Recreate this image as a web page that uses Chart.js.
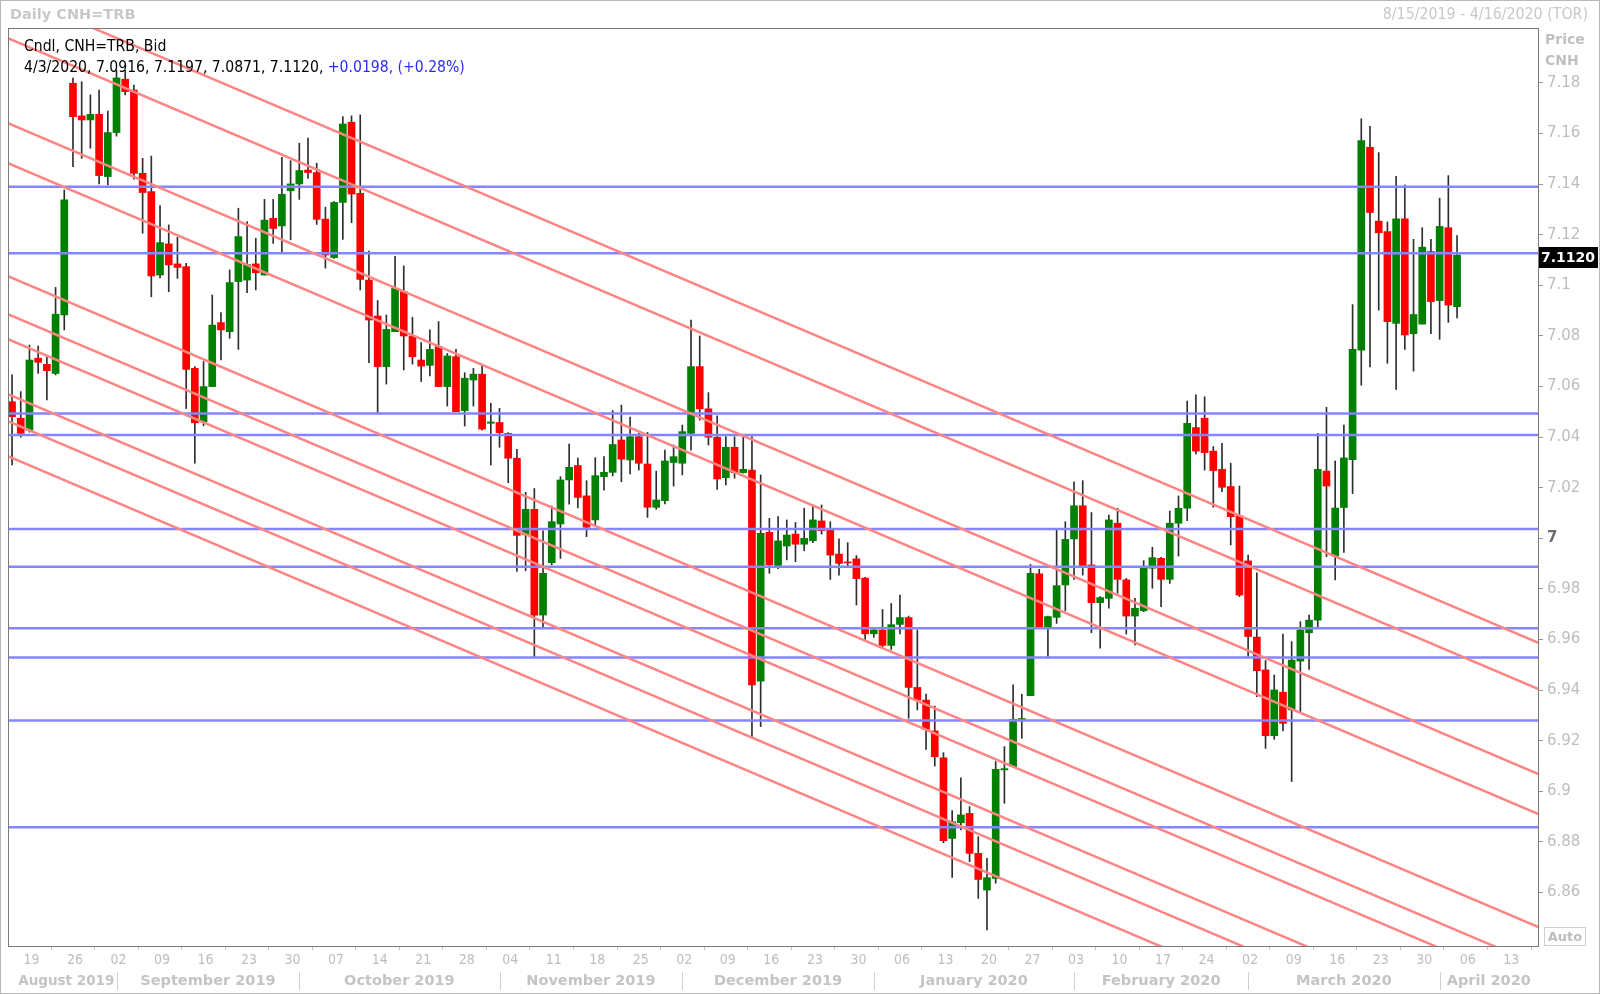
<!DOCTYPE html>
<html>
<head>
<meta charset="utf-8">
<script src="https://cdn.jsdelivr.net/npm/chart.js@4.4.1/dist/chart.umd.min.js"></script>
<style>
  html, body { margin: 0; padding: 0; background: #fff; }
  #wrap { position: relative; width: 1600px; height: 994px; overflow: hidden; }
  #wrap canvas { position: absolute; left: 0; top: 0; }
  .t { position: absolute; white-space: nowrap; font-family: "DejaVu Sans Condensed", "DejaVu Sans", sans-serif; font-size: 15.6px; line-height: 18px; }
  #title { left: 10px; top: 5px; font-weight: bold; color: #c8c8c8; font-family: "DejaVu Sans", sans-serif; font-size: 14.5px; }
  #range { right: 12px; top: 5px; color: #c8c8c8; font-size: 15.8px; }
  #l1 { left: 24px; top: 37px; color: #000; }
  #l2 { left: 24px; top: 58px; color: #000; }
  #l2 span { color: #2b2bff; }
  #pcap { left: 1545px; top: 29px; color: #c0c0c0; font-weight: bold; font-family: "DejaVu Sans", sans-serif; font-size: 14px; line-height: 21px; }
  #auto { left: 1544px; top: 927px; width: 40px; height: 17px; border: 1px solid #cfcfcf; color: #bdbdbd; font-weight: bold; font-family: "DejaVu Sans", sans-serif; font-size: 13px; line-height: 17px; text-align: center; }
  #frame { position: absolute; left: 0; top: 0; width: 1600px; height: 994px; box-sizing: border-box; border: 1px solid #b8b8b8; pointer-events: none; }
</style>
</head>
<body>
<div id="wrap">
  <canvas id="chart" width="1600" height="994"></canvas>
  <div class="t" id="title">Daily CNH=TRB</div>
  <div class="t" id="range">8/15/2019 - 4/16/2020 (TOR)</div>
  <div class="t" id="l1">Cndl, CNH=TRB, Bid</div>
  <div class="t" id="l2"></div>
  <div class="t" id="pcap">Price<br>CNH</div>
  <div class="t" id="auto">Auto</div>
  <div id="frame"></div>
</div>
<script>
// daily candles, one per trading day from 8/15/2019 to 4/3/2020
const opens = [
  7.0540, 7.0475, 7.0428, 7.0712, 7.0688, 7.0652, 7.0883, 7.1799, 7.1670, 7.1654,
  7.1676, 7.1430, 7.1604, 7.1815, 7.1772, 7.1443, 7.1371, 7.1041, 7.1164, 7.1085,
  7.1074, 7.0672, 7.0461, 7.0600, 7.0853, 7.0817, 7.1015, 7.1021, 7.1085, 7.1041,
  7.1265, 7.1235, 7.1374, 7.1401, 7.1456, 7.1446, 7.1262, 7.1110, 7.1328, 7.1645,
  7.1364, 7.1021, 7.0879, 7.0679, 7.0817, 7.0975, 7.0800, 7.0705, 7.0684, 7.0758,
  7.0600, 7.0718, 7.0505, 7.0626, 7.0649, 7.0455, 7.0458, 7.0415, 7.0317, 7.0014,
  7.0115, 6.9697, 6.9904, 7.0057, 7.0231, 7.0288, 7.0168, 7.0073, 7.0244, 7.0261,
  7.0389, 7.0310, 7.0402, 7.0294, 7.0123, 7.0149, 7.0300, 7.0297, 7.0415, 7.0679,
  7.0512, 7.0400, 7.0240, 7.0360, 7.0260, 7.0270, 6.9436, 7.0024, 6.9892, 6.9970,
  7.0017, 6.9977, 6.9991, 7.0069, 7.0033, 6.9938, 6.9905, 6.9919, 6.9843, 6.9623,
  6.9638, 6.9577, 6.9660, 6.9687, 6.9411, 6.9361, 6.9239, 6.9133, 6.8814, 6.8876,
  6.8913, 6.8755, 6.8610, 6.8656, 6.9085, 6.9098, 6.9284, 6.9378, 6.9860, 6.9649,
  6.9688, 6.9816, 6.9998, 7.0129, 6.9895, 6.9746, 6.9763, 7.0060, 6.9836, 6.9693,
  6.9714, 6.9882, 6.9921, 6.9838, 7.0060, 7.0119, 7.0438, 7.0475, 7.0345, 7.0273,
  7.0205, 7.0089, 6.9911, 6.9610, 6.9480, 6.9220, 6.9392, 6.9322, 6.9515, 6.9627,
  6.9677, 7.0266, 6.9930, 7.0122, 7.0311, 7.0744, 7.1546, 7.1254, 7.1213, 7.0850,
  7.1263, 7.0809, 7.0847, 7.1134, 7.0940, 7.1228, 7.0916
];
const highs = [
  7.0646, 7.0580, 7.0764, 7.0760, 7.0718, 7.0992, 7.1377, 7.1819, 7.1805, 7.1753,
  7.1772, 7.1689, 7.1850, 7.1850, 7.1792, 7.1502, 7.1511, 7.1315, 7.1239, 7.1190,
  7.1087, 7.0679, 7.0699, 7.0962, 7.0893, 7.1061, 7.1305, 7.1252, 7.1186, 7.1340,
  7.1340, 7.1506, 7.1493, 7.1562, 7.1582, 7.1483, 7.1309, 7.1331, 7.1667, 7.1670,
  7.1674, 7.1136, 7.0940, 7.0883, 7.1115, 7.1077, 7.0874, 7.0774, 7.0824, 7.0857,
  7.0731, 7.0747, 7.0655, 7.0672, 7.0686, 7.0534, 7.0514, 7.0418, 7.0352, 7.0182,
  7.0197, 7.0030, 7.0128, 7.0244, 7.0373, 7.0317, 7.0228, 7.0319, 7.0323, 7.0505,
  7.0527, 7.0479, 7.0415, 7.0419, 7.0266, 7.0349, 7.0369, 7.0448, 7.0863, 7.0800,
  7.0576, 7.0484, 7.0402, 7.0402, 7.0402, 7.0402, 7.0251, 7.0079, 7.0086, 7.0073,
  7.0063, 7.0119, 7.0132, 7.0132, 7.0066, 6.9998, 6.9983, 6.9932, 6.9846, 6.9640,
  6.9719, 6.9743, 6.9776, 6.9693, 6.9638, 6.9385, 6.9337, 6.9153, 6.8924, 6.9054,
  6.8940, 6.8821, 6.8735, 6.9118, 6.9177, 6.9421, 6.9384, 6.9897, 6.9878, 6.9693,
  7.0033, 7.0066, 7.0224, 7.0228, 7.0102, 6.9770, 7.0092, 7.0119, 6.9842, 6.9763,
  6.9912, 6.9965, 6.9925, 7.0108, 7.0168, 7.0543, 7.0567, 7.0560, 7.0363, 7.0376,
  7.0297, 7.0207, 6.9934, 6.9864, 6.9517, 6.9460, 6.9622, 6.9592, 6.9671, 6.9697,
  7.0415, 7.0518, 7.0306, 7.0448, 7.0924, 7.1658, 7.1629, 7.1525, 7.1251, 7.1431,
  7.1397, 7.1182, 7.1228, 7.1182, 7.1345, 7.1434, 7.1197
];
const lows = [
  7.0290, 7.0400, 7.0420, 7.0652, 7.0547, 7.0646, 7.0824, 7.1469, 7.1502, 7.1542,
  7.1401, 7.1397, 7.1590, 7.1753, 7.1420, 7.1206, 7.0955, 7.1030, 7.0975, 7.1028,
  7.0514, 7.0297, 7.0445, 7.0600, 7.0705, 7.0791, 7.0747, 7.0971, 7.0982, 7.1041,
  7.1166, 7.1129, 7.1180, 7.1340, 7.1423, 7.1241, 7.1068, 7.1107, 7.1182, 7.1248,
  7.0982, 7.0695, 7.0497, 7.0610, 7.0817, 7.0666, 7.0689, 7.0620, 7.0642, 7.0600,
  7.0523, 7.0501, 7.0444, 7.0523, 7.0428, 7.0290, 7.0360, 7.0220, 6.9869, 6.9872,
  6.9530, 6.9648, 6.9895, 6.9921, 7.0135, 7.0120, 7.0007, 7.0053, 7.0191, 7.0247,
  7.0224, 7.0255, 7.0270, 7.0083, 7.0115, 7.0136, 7.0207, 7.0251, 7.0349, 7.0468,
  7.0369, 7.0194, 7.0211, 7.0238, 7.0258, 6.9216, 6.9256, 6.9862, 6.9880, 6.9915,
  6.9908, 6.9951, 6.9983, 7.0017, 6.9838, 6.9855, 6.9891, 6.9737, 6.9596, 6.9609,
  6.9566, 6.9561, 6.9622, 6.9289, 6.9322, 6.9166, 6.9100, 6.8797, 6.8660, 6.8848,
  6.8722, 6.8577, 6.8452, 6.8637, 6.8953, 6.9098, 6.9210, 6.9378, 6.9649, 6.9533,
  6.9664, 6.9714, 6.9838, 6.9855, 6.9627, 6.9566, 6.9724, 6.9783, 6.9622, 6.9579,
  6.9710, 6.9803, 6.9730, 6.9822, 6.9930, 7.0070, 7.0334, 7.0270, 7.0123, 7.0185,
  6.9974, 6.9770, 6.9533, 6.9374, 6.9170, 6.9206, 6.9239, 6.9039, 6.9315, 6.9482,
  6.9648, 6.9928, 6.9836, 6.9945, 7.0177, 7.0606, 7.0678, 7.0902, 7.0692, 7.0589,
  7.0747, 7.0661, 7.0847, 7.0809, 7.0787, 7.0854, 7.0871
];
const closes = [
  7.0481, 7.0415, 7.0705, 7.0696, 7.0663, 7.0886, 7.1338, 7.1667, 7.1654, 7.1676,
  7.1434, 7.1604, 7.1820, 7.1766, 7.1443, 7.1367, 7.1037, 7.1169, 7.1081, 7.1071,
  7.0668, 7.0457, 7.0600, 7.0843, 7.0824, 7.1011, 7.1193, 7.1083, 7.1050, 7.1258,
  7.1225, 7.1360, 7.1401, 7.1454, 7.1446, 7.1261, 7.1120, 7.1328, 7.1638, 7.1361,
  7.1024, 7.0863, 7.0679, 7.0826, 7.0988, 7.0800, 7.0718, 7.0681, 7.0747, 7.0600,
  7.0721, 7.0501, 7.0633, 7.0649, 7.0432, 7.0460, 7.0418, 7.0317, 7.0012, 7.0115,
  6.9697, 6.9862, 7.0066, 7.0231, 7.0281, 7.0162, 7.0044, 7.0248, 7.0261, 7.0371,
  7.0313, 7.0402, 7.0297, 7.0123, 7.0152, 7.0306, 7.0323, 7.0422, 7.0679, 7.0512,
  7.0400, 7.0235, 7.0360, 7.0260, 7.0273, 6.9421, 7.0020, 6.9895, 6.9990, 7.0013,
  6.9977, 7.0000, 7.0073, 7.0031, 6.9934, 6.9901, 6.9903, 6.9841, 6.9623, 6.9638,
  6.9577, 6.9659, 6.9687, 6.9411, 6.9361, 6.9245, 6.9137, 6.8805, 6.8880, 6.8907,
  6.8755, 6.8652, 6.8659, 6.9087, 6.9090, 6.9285, 6.9287, 6.9862, 6.9649, 6.9691,
  6.9813, 6.9996, 7.0129, 6.9891, 6.9746, 6.9766, 7.0073, 6.9838, 6.9693, 6.9724,
  6.9882, 6.9924, 6.9838, 7.0060, 7.0119, 7.0455, 7.0345, 7.0339, 7.0268, 7.0202,
  7.0086, 6.9776, 6.9612, 6.9477, 6.9220, 6.9401, 6.9269, 6.9519, 6.9638, 6.9677,
  7.0273, 7.0207, 7.0120, 7.0318, 7.0747, 7.1572, 7.1288, 7.1208, 7.0857, 7.1263,
  7.0804, 7.0885, 7.1151, 7.0936, 7.1233, 7.0922, 7.1120
];
const lastDate = '4/3/2020';

// horizontal levels (blue)
const levels = [7.1390, 7.1127, 7.0494, 7.0409, 7.0037, 6.9888, 6.9645, 6.9529, 6.9280, 6.8858];

// parallel down-trend lines (red): price at day -1 and at day 176
const trendStart = [7.2168, 7.1985, 7.1649, 7.1491, 7.1044, 7.0894, 7.0795, 7.0578, 7.0471, 7.0333];
const trendEnd   = [6.9578, 6.9395, 6.9059, 6.8901, 6.8454, 6.8304, 6.8205, 6.7988, 6.7881, 6.7743];

// axis labels
const mondayIdx = [2, 7, 12, 17, 22, 27, 32, 37, 42, 47, 52, 57, 62, 67, 72, 77, 82, 87, 92, 97,
  102, 107, 112, 117, 122, 127, 132, 137, 142, 147, 152, 157, 162, 167, 172];
const mondayLabels = ['19', '26', '02', '09', '16', '23', '30', '07', '14', '21', '28', '04', '11', '18', '25',
  '02', '09', '16', '23', '30', '06', '13', '20', '27', '03', '10', '17', '24', '02', '09', '16', '23', '30', '06', '13'];
const monthNames = ['August 2019', 'September 2019', 'October 2019', 'November 2019', 'December 2019',
  'January 2020', 'February 2020', 'March 2020', 'April 2020'];
const monthStart = [0, 12, 33, 56, 77, 99, 122, 142, 164];
const priceTicks = [7.18, 7.16, 7.14, 7.12, 7.10, 7.08, 7.06, 7.04, 7.02, 7.00, 6.98, 6.96, 6.94, 6.92, 6.90, 6.88, 6.86];

// header text from the last candle
const n = closes.length - 1;
const chg = closes[n] - closes[n - 1];
document.getElementById('l2').innerHTML =
  lastDate + ', ' + opens[n].toFixed(4) + ', ' + highs[n].toFixed(4) + ', ' + lows[n].toFixed(4) + ', ' +
  closes[n].toFixed(4) + ', <span>+' + chg.toFixed(4) + ', (+' + (chg / closes[n - 1] * 100).toFixed(2) + '%)</span>';

const isSeven = c => !!(c && c.tick && c.tick.value === 7);

const datasets = [];
levels.forEach(v => {
  datasets.push({
    type: 'line', data: [{ x: -2, y: v }, { x: 178, y: v }],
    borderColor: '#8585ff', borderWidth: 2.5, pointRadius: 0, order: 1
  });
});
trendStart.forEach((v, i) => {
  datasets.push({
    type: 'line', data: [{ x: -1, y: v }, { x: 176, y: trendEnd[i] }],
    borderColor: '#ff8585', borderWidth: 2.5, pointRadius: 0, order: 0
  });
});
datasets.push({
  type: 'bar',
  data: highs.map((h, i) => ({ x: i, y: [lows[i], h] })),
  backgroundColor: '#2e2e2e', barThickness: 1, grouped: false, order: 3
});
datasets.push({
  type: 'bar',
  data: opens.map((o, i) => ({ x: i, y: [o, closes[i]] })),
  backgroundColor: c => closes[c.dataIndex] >= opens[c.dataIndex] ? '#008000' : '#ff0000',
  barThickness: 7, minBarLength: 1, grouped: false, order: 2
});

const frame = {
  id: 'frame',
  afterDraw(chart) {
    const a = chart.chartArea, g = chart.ctx;
    g.save();
    g.strokeStyle = '#7a7a7a';
    g.lineWidth = 1;
    g.strokeRect(Math.round(a.left) - 0.5, Math.round(a.top) - 0.5, Math.round(a.right - a.left) + 1, Math.round(a.bottom - a.top) + 1);
    g.restore();
  }
};

const monthRow = {
  id: 'monthRow',
  afterDraw(chart) {
    const x = chart.scales.x, a = chart.chartArea, g = chart.ctx;
    g.save();
    g.fillStyle = '#c4c4c4';
    g.strokeStyle = '#cfcfcf';
    g.lineWidth = 1;
    g.textAlign = 'center';
    g.textBaseline = 'middle';
    monthStart.forEach((s, i) => {
      const x0 = x.getPixelForValue(s);
      const x1 = i + 1 < monthStart.length ? x.getPixelForValue(monthStart[i + 1]) : a.right;
      if (i > 0) {
        g.beginPath();
        g.moveTo(Math.round(x0) + 0.5, 972);
        g.lineTo(Math.round(x0) + 0.5, 990);
        g.stroke();
      }
      g.font = i === 0 ? "bold 13.5px 'DejaVu Sans'" : "bold 14.5px 'DejaVu Sans'";
      g.fillText(monthNames[i], (x0 + x1) / 2 + (i === 0 ? 2 : 0), 981);
    });
    g.restore();
  }
};

const lastPrice = {
  id: 'lastPrice',
  afterDraw(chart) {
    const y = Math.round(chart.scales.y.getPixelForValue(closes[n])) + 2;
    const a = chart.chartArea, g = chart.ctx;
    g.save();
    g.fillStyle = '#000';
    g.fillRect(a.right + 1, y - 10, 59, 21);
    g.fillStyle = '#fff';
    g.font = "bold 14px 'DejaVu Sans'";
    g.textBaseline = 'middle';
    g.fillText(closes[n].toFixed(4), a.right + 3, y + 1);
    g.restore();
  }
};

new Chart(document.getElementById('chart'), {
  type: 'bar',
  data: { datasets },
  options: {
    responsive: false,
    animation: false,
    devicePixelRatio: 1,
    layout: { padding: { left: 9, top: 29, right: 4, bottom: 0 } },
    plugins: { legend: { display: false }, tooltip: { enabled: false } },
    scales: {
      x: {
        type: 'linear', min: -0.35, max: 175.3, offset: false,
        afterBuildTicks: s => { s.ticks = mondayIdx.map(v => ({ value: v })); },
        afterFit: s => { s.height = 48; },
        ticks: {
          autoSkip: false, maxRotation: 0, padding: 2, labelOffset: 2, color: '#bdbdbd',
          font: { family: "'DejaVu Sans Condensed', 'DejaVu Sans'", size: 14 },
          callback: (v, i) => mondayLabels[i]
        },
        grid: { drawOnChartArea: false, tickLength: 4, color: '#c8c8c8' },
        border: { display: true, color: '#7a7a7a' }
      },
      y: {
        type: 'linear', position: 'right', min: 6.83889, max: 7.20134,
        afterBuildTicks: s => { s.ticks = priceTicks.map(v => ({ value: v })); },
        afterFit: s => { s.width = 58; },
        ticks: {
          padding: 4,
          color: c => isSeven(c) ? '#6e6e6e' : '#bdbdbd',
          font: c => ({ family: "'DejaVu Sans'", size: 15, weight: isSeven(c) ? 'bold' : 'normal' }),
          callback: v => String(Number(v.toFixed(2)))
        },
        grid: { drawOnChartArea: false, tickLength: 5, color: '#9a9a9a' },
        border: { display: true, color: '#7a7a7a' }
      }
    }
  },
  plugins: [frame, monthRow, lastPrice]
});
</script>
</body>
</html>
